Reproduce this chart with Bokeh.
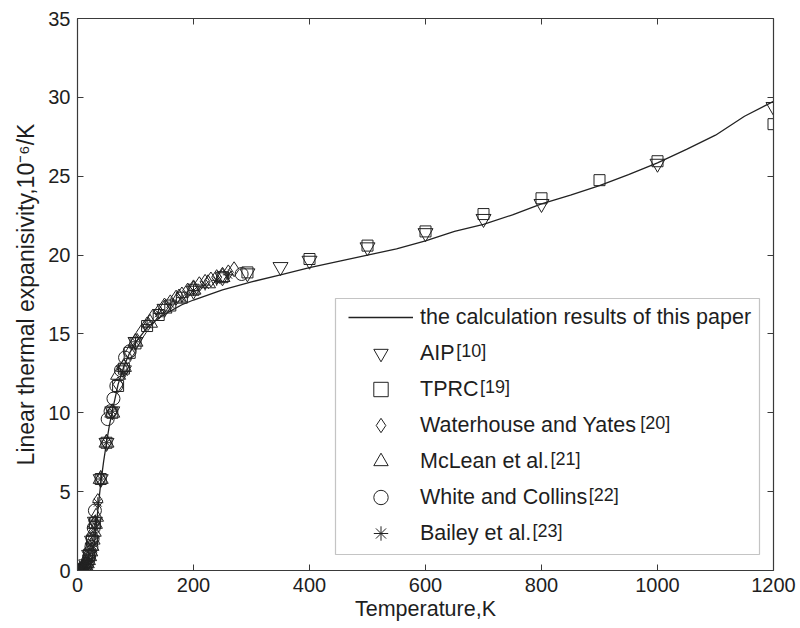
from bokeh.plotting import figure
from bokeh.models import Range1d, LinearAxis, FixedTicker, Legend, LegendItem, Label, BoxAnnotation
from bokeh.embed import file_html
from bokeh.resources import INLINE

# ---------------- data ----------------
calc_T = [0, 10, 15, 20, 25, 30, 35, 40, 45, 50, 55, 60, 70, 80, 90, 100, 120, 140, 160, 180,
          200, 250, 300, 350, 400, 450, 500, 550, 600, 650, 700, 750, 800, 850, 900, 950,
          1000, 1050, 1100, 1150, 1200]
calc_a = [0, 0.02, 0.05, 0.12, 0.7, 2.0, 3.8, 5.5, 6.9, 8.1, 9.2, 10.1, 11.8, 12.95, 13.8, 14.45,
          15.4, 16.0, 16.45, 16.85, 17.15, 17.8, 18.3, 18.75, 19.2, 19.6, 20.0, 20.4, 20.9,
          21.5, 21.95, 22.55, 23.25, 23.8, 24.4, 25.1, 25.85, 26.7, 27.6, 28.8, 29.75]

aip_T = [10, 15, 20, 25, 30, 40, 50, 60, 80, 100, 150, 200, 250, 293, 350, 400, 500, 600, 700,
         800, 1000, 1200]
aip_a = [0.1, 0.4, 1.0, 1.9, 3.1, 5.8, 8.1, 10.1, 12.7, 14.5, 16.6, 17.75, 18.6, 18.85, 19.25,
         19.65, 20.5, 21.4, 22.3, 23.25, 25.8, 29.4]

tprc_T = [20, 25, 30, 40, 50, 60, 70, 80, 90, 100, 120, 140, 160, 180, 200, 250, 293, 400, 500,
          600, 700, 800, 900, 1000, 1200]
tprc_a = [1.0, 1.9, 3.0, 5.8, 8.1, 10.0, 11.7, 12.8, 13.8, 14.4, 15.5, 16.2, 16.8, 17.3, 17.8,
          18.6, 18.9, 19.75, 20.6, 21.5, 22.6, 23.6, 24.75, 25.95, 28.3]

wy_T = [30, 35, 40, 50, 60, 70, 80, 90, 100, 110, 120, 130, 140, 150, 160, 170, 180, 190, 200,
        210, 220, 230, 240, 250, 260, 270]
wy_a = [3.0, 4.4, 5.8, 8.1, 10.1, 11.8, 12.9, 13.8, 14.5, 15.1, 15.6, 16.1, 16.4, 16.8, 17.0,
        17.3, 17.5, 17.75, 17.95, 18.15, 18.3, 18.45, 18.6, 18.75, 18.9, 19.1]

mc_T = [4, 6, 8, 10, 12, 14, 16, 18, 20, 22, 24, 26, 28, 30, 32, 40, 50, 60, 70, 80, 100, 125,
        150, 175, 200, 225, 250]
mc_a = [0.01, 0.02, 0.05, 0.1, 0.18, 0.28, 0.45, 0.65, 0.9, 1.2, 1.55, 1.95, 2.45, 2.95, 3.4,
        5.8, 8.1, 10.0, 12.4, 12.9, 14.5, 15.7, 16.6, 17.3, 17.8, 18.2, 18.6]

wc_T = [2, 4, 6, 8, 10, 12, 14, 16, 18, 20, 22, 24, 26, 28, 30, 52, 57, 62, 67, 75, 82, 90, 283]
wc_a = [0.0, 0.01, 0.02, 0.04, 0.08, 0.15, 0.25, 0.4, 0.6, 0.85, 1.15, 1.5, 2.0, 2.7, 3.8, 9.6,
        10.1, 10.9, 11.7, 12.7, 13.5, 13.9, 18.8]

bl_T = [5, 7, 9, 11, 13, 15, 17, 19, 21, 23, 25, 27, 29, 31, 35, 40, 50, 60, 80, 100, 120, 140,
        160, 180, 200, 220, 240, 260]
bl_a = [0.01, 0.03, 0.07, 0.13, 0.22, 0.35, 0.55, 0.78, 1.05, 1.35, 1.75, 2.2, 2.7, 3.2, 4.3,
        5.8, 8.1, 10.1, 12.6, 14.5, 15.6, 16.3, 16.9, 17.3, 17.75, 18.1, 18.4, 18.75]

x_ticks = [0, 200, 400, 600, 800, 1000, 1200]
y_ticks = [0, 5, 10, 15, 20, 25, 30, 35]

x_title = "Temperature,K"
y_title = "Linear thermal expanisivity,10\u207b\u2076/K"
legend_labels = ["the calculation results of this paper", "AIP", "TPRC",
                 "Waterhouse and Yates", "McLean et al.", "White and Collins", "Bailey et al."]
legend_refs = ["[10]", "[19]", "[20]", "[21]", "[22]", "[23]"]

# ---------------- layout ----------------
FONT = "Liberation Sans"
INK = "#1e1e1e"
AXC = "#3a3a3a"
FRAME_W, FRAME_H = 696, 552
X_MAX, Y_MAX = 1200, 35


def fx(px):
    return px / FRAME_W * X_MAX


def fy(py):
    return Y_MAX - py / FRAME_H * Y_MAX


p = figure(width=800, height=628, x_range=Range1d(0, X_MAX), y_range=Range1d(0, Y_MAX),
           output_backend="svg", toolbar_location=None,
           min_border_left=77, min_border_right=27, min_border_top=18, min_border_bottom=58)
p.xgrid.visible = False
p.ygrid.visible = False
p.outline_line_color = None
p.background_fill_color = "white"
p.border_fill_color = "white"

p.add_layout(LinearAxis(), "above")
p.add_layout(LinearAxis(), "right")

for ax in p.xaxis:
    ax.ticker = FixedTicker(ticks=x_ticks)
for ax in p.yaxis:
    ax.ticker = FixedTicker(ticks=y_ticks)
for ax in p.axis:
    ax.axis_line_color = AXC
    ax.axis_line_width = 1.2
    ax.major_tick_line_color = AXC
    ax.major_tick_in = 6
    ax.major_tick_out = 0
    ax.minor_tick_line_color = None
    ax.major_label_text_font = FONT
    ax.major_label_text_font_size = "20px"
    ax.major_label_text_color = INK

for ax in p.above + p.right:
    ax.major_label_overrides = {t: "" for t in (x_ticks if ax in p.above else y_ticks)}
    ax.major_label_text_font_size = "1px"
    ax.major_label_standoff = 0

xb = p.below[0]
xb.major_label_standoff = 7
xb.axis_label = x_title
xb.axis_label_text_font = FONT
xb.axis_label_text_font_size = "21.5px"
xb.axis_label_text_font_style = "normal"
xb.axis_label_text_color = INK
xb.axis_label_standoff = 2

yl = p.left[0]
yl.major_label_standoff = 7
yl.axis_label = y_title
yl.axis_label_text_font = FONT
yl.axis_label_text_font_size = "23px"
yl.axis_label_text_font_style = "normal"
yl.axis_label_text_color = INK
yl.axis_label_standoff = 6

# ---------------- glyphs ----------------
line_r = p.line(calc_T, calc_a, line_color="#222222", line_width=1.3)
mk = dict(fill_color=None, line_color="#222222", line_width=1)
aip_r = p.scatter(aip_T, aip_a, marker="inverted_triangle", size=15, **mk)
tprc_r = p.scatter(tprc_T, tprc_a, marker="square", size=11, **mk)
wy_r = p.scatter(wy_T, wy_a, marker="diamond", size=15, **mk)
mc_r = p.scatter(mc_T, mc_a, marker="triangle", size=15, **mk)
wc_r = p.scatter(wc_T, wc_a, marker="circle", size=13, **mk)
bl_r = p.scatter(bl_T, bl_a, marker="asterisk", size=11, **mk)
renderers = [line_r, aip_r, tprc_r, wy_r, mc_r, wc_r, bl_r]

# ---------------- legend ----------------
box = BoxAnnotation(left=fx(258), right=fx(682), top=fy(280), bottom=fy(536),
                    fill_color="white", fill_alpha=1.0, line_color=AXC, line_width=1.2)
p.add_layout(box)

LEG_LEFT, LEG_TOP, ROW = 271, 281, 36
legend = Legend(items=[LegendItem(label=l, renderers=[r]) for l, r in zip(legend_labels, renderers)],
                location=(LEG_LEFT, FRAME_H - LEG_TOP - ROW * len(legend_labels)),
                padding=0, margin=0, spacing=0, glyph_width=65, glyph_height=ROW,
                label_height=ROW, label_standoff=7, label_text_font=FONT,
                label_text_font_size="21.5px", label_text_color=INK,
                border_line_alpha=0, background_fill_alpha=0)
p.add_layout(legend)

text_x0 = LEG_LEFT + 65 + 7
label_widths = [34.7, 58.5, 218.7, 129.1, 167.3, 111.1]
for i, (ref, w) in enumerate(zip(legend_refs, label_widths)):
    cy = LEG_TOP + ROW / 2 + ROW * (i + 1)
    p.add_layout(Label(x=fx(text_x0 + w + 1), y=fy(cy - 3), text=ref, text_font=FONT,
                       text_font_size="18px", text_color=INK, text_baseline="alphabetic",
                       text_align="left"))

open("out.html", "w").write(file_html(p, INLINE))
